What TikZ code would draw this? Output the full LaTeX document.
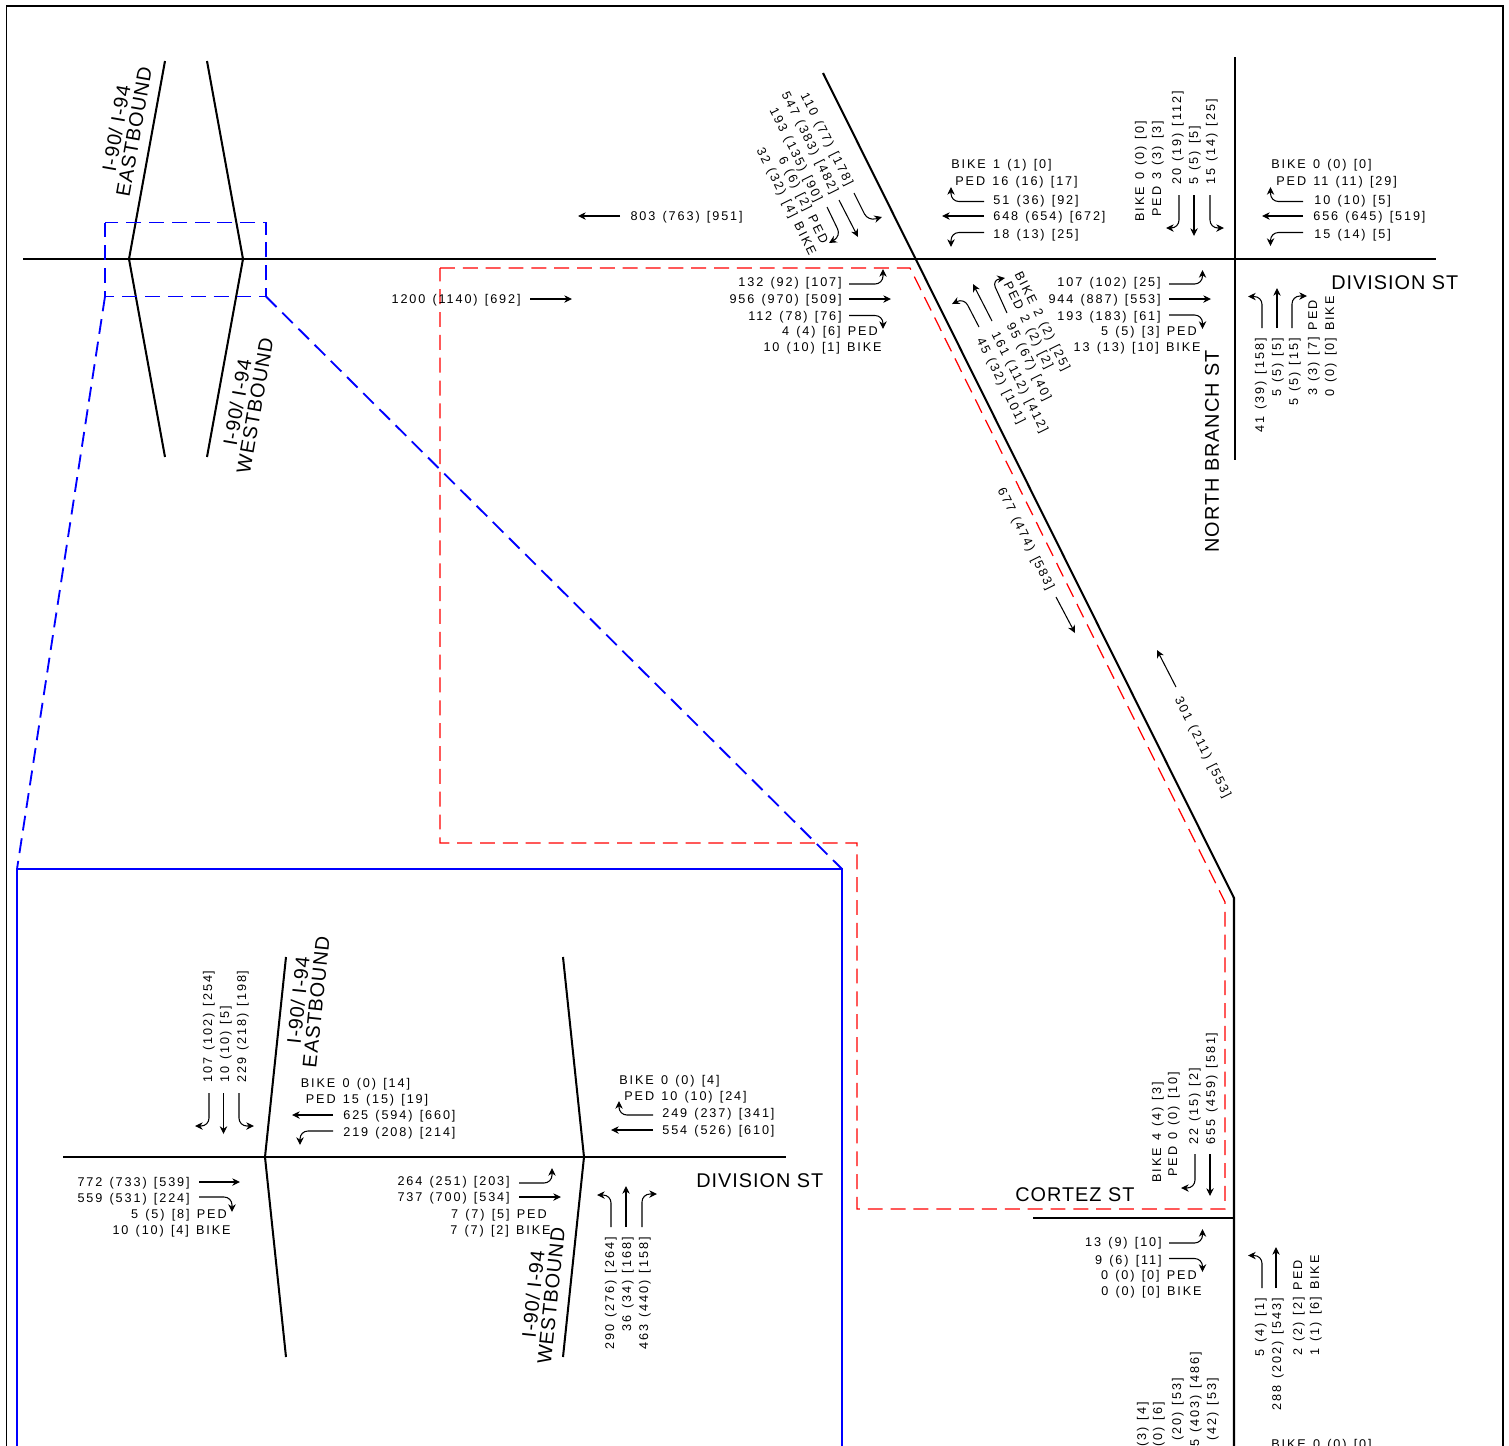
\documentclass[tikz,border=0pt]{standalone}
\usepackage{fontspec}
\usetikzlibrary{arrows.meta}
\newfontfamily\lblfont[LetterSpace=15,WordSpace=1.33]{Liberation Sans}
\newfontfamily\roadfont[LetterSpace=5]{Liberation Sans}
\tikzset{
    road/.style={draw=black,line width=1.15pt},
    thru/.style={draw=black,line width=0.6pt,-{Stealth[length=4.4pt,width=4.2pt]}},
    turn/.style={thru,rounded corners=4.5pt},
    lbl/.style={font=\lblfont\fontsize{7.2}{8}\selectfont,inner sep=0pt,text height=5.2pt,text depth=0.5pt},
    numE/.style={lbl,anchor=east},
    numW/.style={lbl,anchor=west},
    upE/.style={lbl,anchor=east,rotate=90},
    upW/.style={lbl,anchor=west,rotate=90},
    slant/.style={lbl,anchor=west,rotate=-63.5},
    roadname/.style={font=\roadfont\fontsize{11.3}{10.2}\selectfont,inner sep=0pt,align=center}
}
\begin{document}
\begin{tikzpicture}[x=0.02cm,y=-0.02cm]
    \clip (0,0) rectangle (1509,1445);
    \draw[line width=0.9pt] (6.5,6) rectangle (1503,1470);

    \draw[road] (23,259) -- (1436,259);
    \draw[road] (165,61) -- (129,259) -- (165,457);
    \draw[road] (207,61) -- (243,259) -- (207,457);
    \draw[road] (823,73) -- (1234,898) -- (1234,1470);
    \draw[road] (1235,57) -- (1235,460);
    \draw[road] (1033,1218) -- (1234,1218);
    \draw[road] (63,1157) -- (786,1157);
    \draw[road] (286,957) -- (265,1157) -- (286,1357);
    \draw[road] (563,957) -- (584,1157) -- (563,1357);

    \draw[draw=red,line width=0.7pt,dash pattern=on 8.5pt off 4.5pt] (440,268) -- (910,268) -- (1225,902) -- (1225,1209) -- (857,1209) -- (857,843) -- (440,843) -- cycle;
    \draw[draw=blue,line width=1.05pt,dash pattern=on 8.5pt off 4.5pt] (105,222.5) rectangle (266,296.5);
    \draw[draw=blue,line width=1.05pt,dash pattern=on 8.5pt off 4.5pt] (105,296.5) -- (17,869);
    \draw[draw=blue,line width=1.05pt,dash pattern=on 8.5pt off 4.5pt] (266,296.5) -- (842,869);
    \draw[draw=blue,line width=1.05pt] (17,869) rectangle (842,1470);

    \node[roadname,rotate=80] (ebTop) at (125,130) {I-90/ I-94\\EASTBOUND};
    \node[roadname,rotate=80] (wbTop) at (246,404) {I-90/ I-94\\WESTBOUND};
    \node[roadname,rotate=84] (ebBox) at (307,1001) {I-90/ I-94\\EASTBOUND};
    \node[roadname,rotate=84] (wbBox) at (542,1295) {I-90/ I-94\\WESTBOUND};
    \node[roadname,anchor=west] (divTop) at (1331,283) {DIVISION ST};
    \node[roadname,anchor=west] (divBox) at (696,1181) {DIVISION ST};
    \node[roadname,anchor=west] (cortez) at (1015,1195) {CORTEZ ST};
    \node[roadname,anchor=west,rotate=90] (branch) at (1212,553) {NORTH BRANCH ST};

    \node[numE] (topWb) at (743,216) {803 (763) [951]};
    \draw[thru] (620,216) -- (578,216);
    \node[numE] (topEb) at (521,299) {1200 (1140) [692]};
    \draw[thru] (530,299) -- (572,299);

    \node[numE] (aEb1) at (842,282) {132 (92) [107]};
    \node[numE] (aEb2) at (842,299) {956 (970) [509]};
    \node[numE] (aEb3) at (842,316) {112 (78) [76]};
    \node[numE] (aEb4) at (878,331) {4 (4) [6] PED};
    \node[numE] (aEb5) at (882,347) {10 (10) [1] BIKE};
    \draw[turn] (849,284) -- (883,284) -- (883,269);
    \draw[thru] (849,299) -- (891,299);
    \draw[turn] (849,315.5) -- (883,315.5) -- (883,329);

    \node[numW] (aWb1) at (951,164) {BIKE 1 (1) [0]};
    \node[numW] (aWb2) at (955,181) {PED 16 (16) [17]};
    \node[numW] (aWb3) at (993,200) {51 (36) [92]};
    \node[numW] (aWb4) at (993,216) {648 (654) [672]};
    \node[numW] (aWb5) at (993,234) {18 (13) [25]};
    \draw[turn] (984,201.5) -- (951,201.5) -- (951,187);
    \draw[thru] (984,216) -- (942,216);
    \draw[turn] (984,232.5) -- (951,232.5) -- (951,247);

    \node[slant] (aSb1) at (804,93) {110 (77) [178]};
    \node[slant] (aSb2) at (785,92) {547 (383) [482]};
    \node[slant] (aSb3) at (773,108) {193 (135) [90]};
    \node[slant] (aSb4) at (782,157) {6 (6) [2] PED};
    \node[slant] (aSb5) at (760,148) {32 (32) [4] BIKE};
    \draw[turn] (854,193) -- (868,221) -- (882,217);
    \draw[thru] (839,200) -- (858,237);
    \draw[turn] (827,207) -- (841,236) -- (829,243);

    \node[slant] (aNb1) at (1018,272) {BIKE 2 (2) [25]};
    \node[slant] (aNb2) at (1007,282) {PED 2 (2) [2]};
    \node[slant] (aNb3) at (1010,323) {95 (67) [40]};
    \node[slant] (aNb4) at (995,332) {161 (112) [412]};
    \node[slant] (aNb5) at (980,338) {45 (32) [101]};
    \draw[turn] (979,327) -- (964,298) -- (952,304);
    \draw[thru] (992,321) -- (973,284);
    \draw[turn] (1007,313) -- (992,280) -- (1005,278);

    \node[upW] (bSb1) at (1140,222) {BIKE 0 (0) [0]};
    \node[upW] (bSb2) at (1157,217) {PED 3 (3) [3]};
    \node[upW] (bSb3) at (1177,185) {20 (19) [112]};
    \node[upW] (bSb4) at (1194,185) {5 (5) [5]};
    \node[upW] (bSb5) at (1211,185) {15 (14) [25]};
    \draw[turn] (1179,195) -- (1179,228) -- (1166,228);
    \draw[thru] (1194,195) -- (1194,236);
    \draw[turn] (1210,195) -- (1210,228) -- (1224,228);

    \node[numW] (bWb1) at (1271,164) {BIKE 0 (0) [0]};
    \node[numW] (bWb2) at (1276,181) {PED 11 (11) [29]};
    \node[numW] (bWb3) at (1314,200) {10 (10) [5]};
    \node[numW] (bWb4) at (1313,216) {656 (645) [519]};
    \node[numW] (bWb5) at (1314,234) {15 (14) [5]};
    \draw[turn] (1303,201.5) -- (1270.5,201.5) -- (1270.5,187);
    \draw[thru] (1303,216) -- (1262,216);
    \draw[turn] (1303,232.5) -- (1270.5,232.5) -- (1270.5,246);

    \node[numE] (bEb1) at (1161,282) {107 (102) [25]};
    \node[numE] (bEb2) at (1161,299) {944 (887) [553]};
    \node[numE] (bEb3) at (1161,316) {193 (183) [61]};
    \node[numE] (bEb4) at (1197,331) {5 (5) [3] PED};
    \node[numE] (bEb5) at (1201,347) {13 (13) [10] BIKE};
    \draw[turn] (1169,284) -- (1202.5,284) -- (1202.5,270);
    \draw[thru] (1169,299) -- (1211,299);
    \draw[turn] (1169,315) -- (1202.5,315) -- (1202.5,329);

    \node[upE] (bNb1) at (1260,338) {41 (39) [158]};
    \node[upE] (bNb2) at (1277,338) {5 (5) [5]};
    \node[upE] (bNb3) at (1294,338) {5 (5) [15]};
    \node[upE] (bNb4) at (1313,300) {3 (3) [7] PED};
    \node[upE] (bNb5) at (1330,296) {0 (0) [0] BIKE};
    \draw[turn] (1262,328) -- (1262,296.5) -- (1248,296.5);
    \draw[thru] (1277,328) -- (1277,288);
    \draw[turn] (1292,328) -- (1292,296) -- (1307,296);

    \node[lbl,rotate=-63.5] (midSb) at (1026,539) {677 (474) [583]};
    \draw[thru] (1056,597) -- (1075,633);
    \node[lbl,rotate=-63.5] (midNb) at (1203,747) {301 (211) [553]};
    \draw[thru] (1176,687) -- (1157,650);

    \node[upW] (cSb1) at (1157,1183) {BIKE 4 (4) [3]};
    \node[upW] (cSb2) at (1173,1177) {PED 0 (0) [10]};
    \node[upW] (cSb3) at (1194,1145) {22 (15) [2]};
    \node[upW] (cSb4) at (1211,1145) {655 (459) [581]};
    \draw[turn] (1195,1154) -- (1195,1188) -- (1181,1188);
    \draw[thru] (1210,1154) -- (1210,1196);

    \node[numE] (cEb1) at (1162,1242) {13 (9) [10]};
    \node[numE] (cEb2) at (1162,1260) {9 (6) [11]};
    \node[numE] (cEb3) at (1197,1275) {0 (0) [0] PED};
    \node[numE] (cEb4) at (1202,1291) {0 (0) [0] BIKE};
    \draw[turn] (1169,1243) -- (1202.5,1243) -- (1202.5,1229);
    \draw[turn] (1169,1258.5) -- (1202.5,1258.5) -- (1202.5,1272);

    \node[upE] (cNb1) at (1260,1298) {5 (4) [1]};
    \node[upE] (cNb2) at (1277,1298) {288 (202) [543]};
    \node[upE] (cNb3) at (1298,1260) {2 (2) [2] PED};
    \node[upE] (cNb4) at (1315,1255) {1 (1) [6] BIKE};
    \draw[turn] (1262,1288) -- (1262,1255.5) -- (1248,1255.5);
    \draw[thru] (1276,1288) -- (1276,1247);

    \node[upE] (dSb1) at (1142,1402) {(3) [4]};
    \node[upE] (dSb2) at (1158,1402) {(0) [6]};
    \node[upE] (dSb3) at (1177,1378) {(20) [53]};
    \node[upE] (dSb4) at (1195,1352) {5 (403) [486]};
    \node[upE] (dSb5) at (1212,1378) {(42) [53]};
    \node[numW] (dWb1) at (1271,1444) {BIKE 0 (0) [0]};

    \node[upW] (eSb1) at (208,1083) {107 (102) [254]};
    \node[upW] (eSb2) at (225,1083) {10 (10) [5]};
    \node[upW] (eSb3) at (242,1083) {229 (218) [198]};
    \draw[turn] (209,1093) -- (209,1126) -- (195,1126);
    \draw[thru] (223.5,1093) -- (223.5,1134);
    \draw[turn] (239,1093) -- (239,1126) -- (254,1126);

    \node[numW] (eWb1) at (300.5,1083) {BIKE 0 (0) [14]};
    \node[numW] (eWb2) at (305.5,1099) {PED 15 (15) [19]};
    \node[numW] (eWb3) at (343,1115) {625 (594) [660]};
    \node[numW] (eWb4) at (343,1132) {219 (208) [214]};
    \draw[thru] (333,1115) -- (292,1115);
    \draw[turn] (333,1131) -- (300,1131) -- (300,1145);

    \node[numE] (eEb1) at (190,1182) {772 (733) [539]};
    \node[numE] (eEb2) at (190,1198) {559 (531) [224]};
    \node[numE] (eEb3) at (227,1214) {5 (5) [8] PED};
    \node[numE] (eEb4) at (231,1230) {10 (10) [4] BIKE};
    \draw[thru] (199,1182) -- (240,1182);
    \draw[turn] (199,1197) -- (232,1197) -- (232,1212);

    \node[numW] (fWb1) at (619,1080) {BIKE 0 (0) [4]};
    \node[numW] (fWb2) at (624,1096) {PED 10 (10) [24]};
    \node[numW] (fWb3) at (662,1113) {249 (237) [341]};
    \node[numW] (fWb4) at (662,1130) {554 (526) [610]};
    \draw[turn] (653,1115) -- (619,1115) -- (619,1101);
    \draw[thru] (653,1130) -- (611,1130);

    \node[numE] (fEb1) at (510,1181) {264 (251) [203]};
    \node[numE] (fEb2) at (510,1197) {737 (700) [534]};
    \node[numE] (fEb3) at (547,1214) {7 (7) [5] PED};
    \node[numE] (fEb4) at (551,1230) {7 (7) [2] BIKE};
    \draw[turn] (519,1183) -- (552,1183) -- (552,1168);
    \draw[thru] (519,1197) -- (561,1197);

    \node[upE] (fNb1) at (610,1237) {290 (276) [264]};
    \node[upE] (fNb2) at (627,1237) {36 (34) [168]};
    \node[upE] (fNb3) at (644,1237) {463 (440) [158]};
    \draw[turn] (611,1227) -- (611,1195) -- (597,1195);
    \draw[thru] (626,1227) -- (626,1186);
    \draw[turn] (642,1227) -- (642,1194) -- (657,1194);
\end{tikzpicture}
\end{document}
